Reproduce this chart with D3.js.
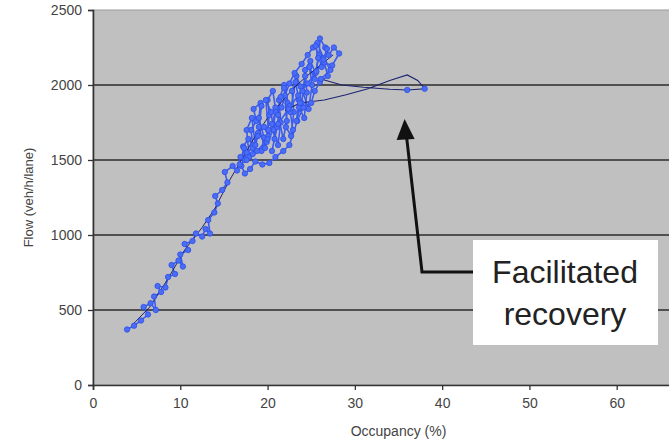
<!DOCTYPE html>
<html>
<head>
    <title>Flow vs Occupancy</title>
    <script src="https://d3js.org/d3.v7.min.js"></script>
    <style>
        body { margin: 0; background: white; }
        text { font-family: "Liberation Sans", Arial, sans-serif; }
    </style>
</head>
<body>
    <div id="chart"></div>

    <script>
        // main run (blue line + markers)
        const mainOcc = [3.9, 4.7, 5.5, 6.3, 5.8, 6.6, 7.2, 7.0, 7.8, 7.4, 8.3, 8.6, 9.4, 9.0, 9.8, 10.3, 10.0, 10.9, 10.5, 11.4,
            11.8, 12.5, 12.9, 13.4, 13.2, 13.9, 14.3, 14.0, 14.8, 15.4, 15.1, 16.0, 16.5, 16.9, 17.4, 17.2, 17.8, 18.3, 18.1, 18.7,
            18.4, 19.2, 19.0, 19.6, 19.3, 19.9, 20.2, 20.0, 20.6, 20.9, 20.7, 21.2, 21.5, 21.3, 21.9, 22.3, 22.1, 22.7, 23.0, 22.8,
            23.3, 23.8, 23.6, 24.2, 24.5, 24.3, 24.9, 25.5, 25.9, 26.0, 26.6, 27.0, 27.6, 28.2, 27.4, 26.5, 26.9, 26.0, 25.4, 25.0,
            24.1, 23.4, 22.5, 21.8, 20.9, 20.2, 19.4, 18.6, 18.0, 17.4, 17.0, 17.6, 18.3, 18.9, 19.6, 20.1, 20.5, 20.9, 21.6, 22.0,
            22.5, 23.1, 23.9, 24.6, 25.2, 25.7, 26.4, 27.2, 26.1];
        const mainFlow = [370, 395, 430, 470, 520, 545, 500, 590, 620, 660, 650, 720, 740, 800, 830, 790, 870, 900, 940, 960,
            1010, 990, 1040, 1010, 1100, 1150, 1210, 1260, 1300, 1350, 1420, 1460, 1430, 1520, 1500, 1590, 1640, 1600, 1700, 1760,
            1840, 1880, 1780, 1650, 1560, 1620, 1800, 1900, 1960, 1850, 1700, 1600, 1750, 1900, 2000, 1880, 1720, 1660, 1820, 1960,
            2060, 1990, 1850, 1780, 1950, 2100, 2160, 2080, 2200, 2310, 2250, 2200, 2250, 2210, 2130, 2150, 2060, 2020, 1960, 1880,
            1850, 1760, 1600, 1560, 1520, 1480, 1470, 1490, 1440, 1410, 1460, 1550, 1580, 1680, 1720, 1660, 1740, 1820, 1850, 1930,
            2010, 2080, 2140, 2200, 2250, 2280, 2180, 2100, 2040];

        // second pass through the congested cloud (vertical streaks)
        const streakOcc = [16.8, 17.3, 17.9, 17.6, 18.2, 18.6, 18.3, 18.9, 19.3, 19.0, 19.7, 20.1, 19.8, 20.4, 20.8, 20.5,
            21.1, 21.5, 21.2, 21.8, 22.2, 21.9, 22.5, 22.9, 22.6, 23.2, 23.6, 23.3, 23.9, 24.3, 24.0, 24.7, 25.1, 24.8, 25.4,
            25.8, 25.5, 26.2, 26.8, 26.4, 25.6, 24.6, 23.5, 22.4, 21.2, 20.0, 18.8, 17.6];
        const streakFlow = [1470, 1580, 1520, 1700, 1780, 1600, 1540, 1660, 1860, 1720, 1580, 1700, 1900, 1820, 1640, 1560,
            1720, 1920, 1800, 1640, 1760, 1980, 1860, 1700, 1820, 2020, 1900, 1760, 1880, 2060, 1960, 1840, 2000, 2120, 2040,
            2180, 2260, 2120, 2240, 2170, 2090, 2010, 1930, 1840, 1740, 1640, 1560, 1500];

        // recovery excursion (dark line)
        const recOcc = [26.1, 28.5, 31.0, 34.0, 36.0, 38.0, 37.2, 36.0, 34.0, 31.5, 29.0, 26.5, 23.7, 22.0];
        const recFlow = [2040, 2000, 1985, 1972, 1967, 1975, 2030, 2067, 2030, 1975, 1935, 1900, 1880, 1830];
        const recMarked = [false, false, false, false, true, true, false, false, false, false, false, false, true, false];

        // dark line through the cloud
        const darkOcc = [4.5, 6.5, 8.5, 10.5, 12.5, 14.0, 15.5, 17.0, 18.5, 20.0, 21.5, 23.0, 24.5, 26.0, 27.5];
        const darkFlow = [400, 520, 700, 900, 1050, 1180, 1350, 1500, 1650, 1780, 1880, 1980, 2060, 2130, 2200];

        const xTicks = [0, 10, 20, 30, 40, 50, 60];
        const yTicks = [0, 500, 1000, 1500, 2000, 2500];

        const width = 669;
        const height = 440;

        const svg = d3.select("#chart")
            .append("svg")
            .attr("width", width)
            .attr("height", height);

        const x = d3.scaleLinear().domain([0, 70]).range([93, 704]);
        const y = d3.scaleLinear().domain([0, 2500]).range([385, 10]);

        // plot area
        svg.append("rect")
            .attr("x", x(0))
            .attr("y", y(2500))
            .attr("width", x(70) - x(0))
            .attr("height", y(0) - y(2500))
            .attr("fill", "#c0c0c0")
            .attr("stroke", "#9c9c9c");

        // gridlines
        svg.selectAll(".grid")
            .data(yTicks.filter(d => d > 0 && d < 2500))
            .enter()
            .append("line")
            .attr("x1", x(0))
            .attr("x2", x(70))
            .attr("y1", d => y(d))
            .attr("y2", d => y(d))
            .attr("stroke", "#505050")
            .attr("stroke-width", 1.8);

        // axes
        const yAxis = svg.append("g")
            .attr("transform", `translate(${x(0)},0)`)
            .call(d3.axisLeft(y).tickValues(yTicks).tickFormat(d3.format("d")).tickSize(5).tickPadding(6));
        const xAxis = svg.append("g")
            .attr("transform", `translate(0,${y(0)})`)
            .call(d3.axisBottom(x).tickValues(xTicks).tickFormat(d3.format("d")).tickSize(5).tickPadding(8));

        [xAxis, yAxis].forEach(g => {
            g.select(".domain").attr("stroke", "#333").attr("stroke-width", 1.6);
            g.selectAll(".tick line").attr("stroke", "#333").attr("stroke-width", 1.3);
            g.selectAll(".tick text")
                .attr("fill", "#444")
                .style("font-size", "14px")
                .style("font-family", "Liberation Sans, Arial, sans-serif");
        });

        svg.append("text")
            .attr("x", (x(0) + x(70)) / 2)
            .attr("y", 436)
            .attr("text-anchor", "middle")
            .attr("fill", "#444")
            .style("font-size", "14px")
            .text("Occupancy (%)");

        svg.append("text")
            .attr("transform", `translate(33,${(y(0) + y(2500)) / 2}) rotate(-90)`)
            .attr("text-anchor", "middle")
            .attr("fill", "#444")
            .style("font-size", "13px")
            .text("Flow (veh/h/lane)");

        const line = d3.line().x(d => x(d[0])).y(d => y(d[1]));

        const mainPts = mainOcc.map((o, i) => [o, mainFlow[i]]);
        const streakPts = streakOcc.map((o, i) => [o, streakFlow[i]]);
        const recPts = recOcc.map((o, i) => [o, recFlow[i]]);
        const darkPts = darkOcc.map((o, i) => [o, darkFlow[i]]);

        [mainPts, streakPts].forEach(pts => {
            svg.append("path")
                .datum(pts)
                .attr("d", line)
                .attr("fill", "none")
                .attr("stroke", "#3a5cf0")
                .attr("stroke-width", 1.6);
        });

        svg.append("path")
            .datum(darkPts)
            .attr("d", line)
            .attr("fill", "none")
            .attr("stroke", "#1c2470")
            .attr("stroke-width", 1);

        svg.append("path")
            .datum(recPts)
            .attr("d", line)
            .attr("fill", "none")
            .attr("stroke", "#1c2470")
            .attr("stroke-width", 1.1);

        svg.selectAll(".pt")
            .data(mainPts.concat(streakPts, recPts.filter((d, i) => recMarked[i])))
            .enter()
            .append("circle")
            .attr("cx", d => x(d[0]))
            .attr("cy", d => y(d[1]))
            .attr("r", 2.7)
            .attr("fill", "#4a6cf6")
            .attr("stroke", "#2d4fe6")
            .attr("stroke-width", 0.8);

        // annotation
        const tip = [x(35.7), y(1773)];
        svg.append("path")
            .attr("d", `M480,272 L422,272 L${tip[0] + 2},${tip[1] + 18}`)
            .attr("fill", "none")
            .attr("stroke", "#111")
            .attr("stroke-width", 3);
        svg.append("path")
            .attr("d", `M${tip[0]},${tip[1]} L${tip[0] + 10},${tip[1] + 20} L${tip[0] - 8},${tip[1] + 21} Z`)
            .attr("fill", "#111");

        svg.append("rect")
            .attr("x", 473)
            .attr("y", 240)
            .attr("width", 185)
            .attr("height", 105)
            .attr("fill", "white");

        svg.append("text")
            .attr("x", 565)
            .attr("y", 283)
            .attr("text-anchor", "middle")
            .attr("fill", "#222")
            .style("font-size", "32px")
            .text("Facilitated");
        svg.append("text")
            .attr("x", 565)
            .attr("y", 325)
            .attr("text-anchor", "middle")
            .attr("fill", "#222")
            .style("font-size", "32px")
            .text("recovery");
    </script>
</body>
</html>
